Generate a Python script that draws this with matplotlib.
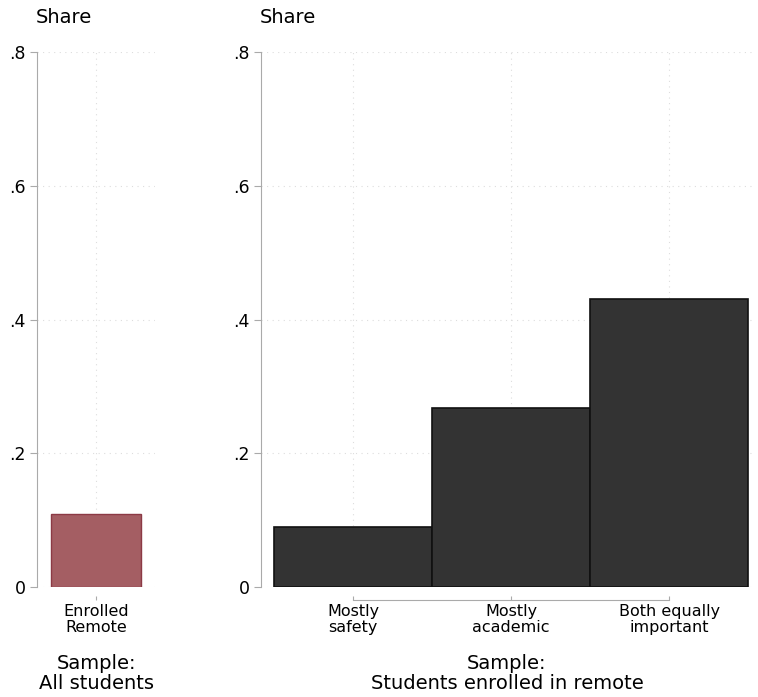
import numpy as np
import matplotlib
matplotlib.use('Agg')
import matplotlib.pyplot as plt

# left panel: all students
all_labels = ["Enrolled\nRemote"]
all_share = [0.109]

# right panel: students enrolled in remote, reason
remote_labels = ["Mostly\nsafety", "Mostly\nacademic", "Both equally\nimportant"]
remote_share = [0.090, 0.267, 0.430]

yticks = [0, 0.2, 0.4, 0.6, 0.8]
ytick_labels = ["0", ".2", ".4", ".6", ".8"]

spine_col = "#aaaaaa"
grid_col = "#dddddd"


def style_axes(ax, ncat, xlabel):
    ax.set_ylim(0, 0.8)
    ax.set_yticks(yticks)
    ax.set_yticklabels(ytick_labels, fontsize=12.5)
    ax.set_xticks(np.arange(1, ncat + 1))
    for s in ["top", "right"]:
        ax.spines[s].set_visible(False)
    ax.spines["left"].set_color(spine_col)
    ax.spines["left"].set_bounds(0, 0.8)
    ax.spines["bottom"].set_color(spine_col)
    ax.spines["bottom"].set_position(("outward", 9))
    ax.spines["bottom"].set_bounds(1, ncat)
    ax.tick_params(axis="y", colors=spine_col, labelcolor="black", length=5, pad=3)
    ax.tick_params(axis="x", colors=spine_col, labelcolor="black", length=3,
                   direction="in", pad=3)
    ax.grid(True, linestyle=(0, (1, 4)), color=grid_col, linewidth=0.8)
    ax.set_axisbelow(True)
    ax.set_xlabel(xlabel, fontsize=14, labelpad=14, linespacing=1.05)
    ax.annotate("Share", xy=(0, 1), xycoords="axes fraction",
                xytext=(-1, 24.5), textcoords="offset points",
                ha="left", va="center", fontsize=14)


fig = plt.figure(figsize=(7.58, 6.97), dpi=100)

ax1 = fig.add_axes([0.0488, 0.1578, 0.1557, 0.7676])
x1 = np.arange(1, len(all_share) + 1)
ax1.bar(x1, all_share, width=0.77, color="#a45e63", edgecolor="#8c3a45", linewidth=1.0)
ax1.set_xlim(0.5, 1.5)
style_axes(ax1, len(all_share), "Sample:\nAll students")
ax1.set_xticklabels(all_labels, fontsize=11.5, linespacing=1.1)

ax2 = fig.add_axes([0.3443, 0.1578, 0.649, 0.7676])
x2 = np.arange(1, len(remote_share) + 1)
ax2.bar(x2, remote_share, width=1.0, color="#333333", edgecolor="#111111", linewidth=1.2)
ax2.set_xlim(0.418, 3.53)
style_axes(ax2, len(remote_share), "Sample:\nStudents enrolled in remote")
ax2.set_xticklabels(remote_labels, fontsize=11.5, linespacing=1.1)

fig.savefig("out.png", dpi=100)
